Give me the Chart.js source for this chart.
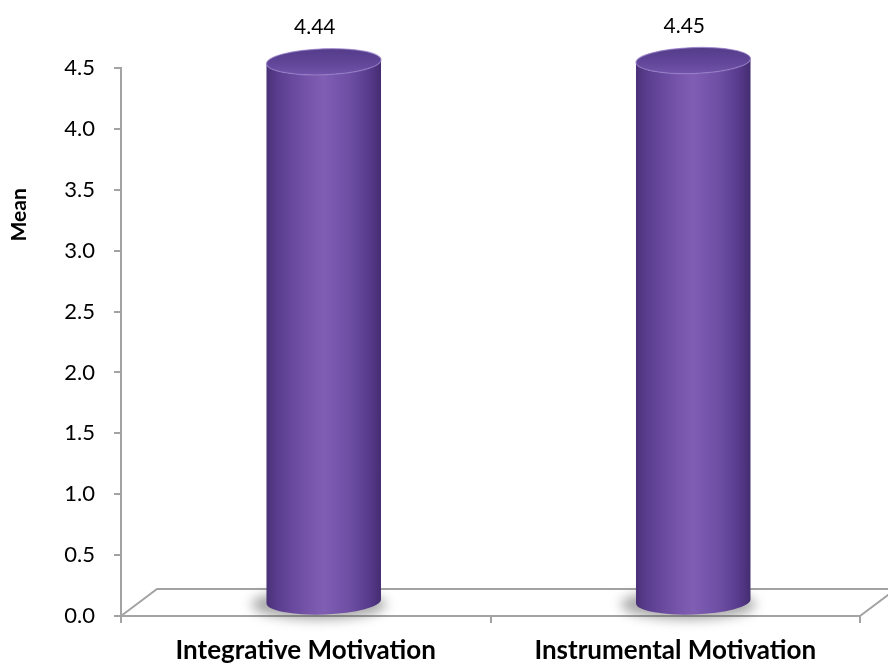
<!DOCTYPE html>
<html>
<head>
<meta charset="utf-8">
<script src="https://cdn.jsdelivr.net/npm/chart.js@4.4.1/dist/chart.umd.min.js"></script>
<style>
  html, body { margin: 0; padding: 0; background: #ffffff; }
  #wrap { width: 888px; height: 664px; position: relative; }
</style>
</head>
<body>
<div id="wrap"><canvas id="chart" width="888" height="664"></canvas></div>
<script>
// Motivation categories and their mean scores
const categories = ['Integrative Motivation', 'Instrumental Motivation'];
const meanValues = [4.44, 4.45];
const axisTitle = 'Mean';
const yMin = 0;
const yMax = 4.5;
const yStep = 0.5;

const FONT = 'Lato, "Open Sans", "Liberation Sans", sans-serif';
const AXIS_GREY = '#a3a3a3';
// Depth of the 3D floor (pixels to the right and upward)
const DEPTH_X = 36;
const DEPTH_Y = 27;

// Floor parallelogram drawn behind the bars
const floorPlugin = {
  id: 'floor3d',
  beforeDatasetsDraw(chart) {
    const { ctx } = chart;
    const x = chart.scales.x, y = chart.scales.y;
    const y0 = y.getPixelForValue(0);
    ctx.save();
    ctx.strokeStyle = AXIS_GREY;
    ctx.lineWidth = 2;
    ctx.beginPath();
    ctx.moveTo(x.left, y0);
    ctx.lineTo(x.left + DEPTH_X, y0 - DEPTH_Y);
    ctx.lineTo(x.right + DEPTH_X, y0 - DEPTH_Y);
    ctx.moveTo(x.right, y0);
    ctx.lineTo(x.right + DEPTH_X, y0 - DEPTH_Y);
    ctx.stroke();
    ctx.restore();
  }
};

// Cylinders drawn from each bar element's geometry, plus value labels
const cylinderPlugin = {
  id: 'cylinders',
  afterDatasetsDraw(chart) {
    const { ctx } = chart;
    const meta = chart.getDatasetMeta(0);
    const dx = DEPTH_X / 2, dy = -DEPTH_Y / 2;
    meta.data.forEach((bar, i) => {
      const p = bar.getProps(['x', 'y', 'base', 'width'], true);
      const cx = p.x + dx;
      const rx = p.width / 2;
      const ry = 13;
      const tilt = -0.035;
      const topY = p.y + dy;
      const baseY = p.base + dy;
      const left = cx - rx, right = cx + rx;

      ctx.save();
      // soft shadow around the foot
      ctx.save();
      ctx.filter = 'blur(6px)';
      ctx.fillStyle = 'rgba(60,60,60,0.45)';
      ctx.beginPath();
      ctx.ellipse(cx - 5, baseY + 3, rx + 10, ry + 2, 0, 0, Math.PI * 2);
      ctx.fill();
      ctx.restore();

      // body
      const g = ctx.createLinearGradient(left, 0, right, 0);
      g.addColorStop(0.00, '#4a3078');
      g.addColorStop(0.10, '#5b3e90');
      g.addColorStop(0.35, '#7453a9');
      g.addColorStop(0.50, '#7f5eb4');
      g.addColorStop(0.72, '#6e4fa4');
      g.addColorStop(0.90, '#573a8c');
      g.addColorStop(1.00, '#442c70');
      ctx.fillStyle = g;
      ctx.beginPath();
      ctx.moveTo(left, topY);
      ctx.lineTo(left, baseY);
      ctx.ellipse(cx, baseY, rx, ry, tilt, Math.PI, 0, true);
      ctx.lineTo(right, topY);
      ctx.ellipse(cx, topY, rx, ry, tilt, 0, Math.PI, false);
      ctx.closePath();
      ctx.fill();

      // top face
      const tg = ctx.createLinearGradient(0, topY - ry, 0, topY + ry);
      tg.addColorStop(0, '#553c8a');
      tg.addColorStop(0.6, '#62479a');
      tg.addColorStop(1, '#7255aa');
      ctx.fillStyle = tg;
      ctx.beginPath();
      ctx.ellipse(cx, topY, rx, ry, tilt, 0, Math.PI * 2);
      ctx.fill();
      ctx.strokeStyle = 'rgba(150,125,200,0.7)';
      ctx.lineWidth = 1.2;
      ctx.stroke();
      ctx.restore();

      // value label
      ctx.save();
      ctx.fillStyle = '#000000';
      ctx.font = '21px ' + FONT;
      ctx.textAlign = 'center';
      ctx.textBaseline = 'alphabetic';
      ctx.fillText(meanValues[i].toFixed(2), p.x + dx / 2, topY - ry - 15);
      ctx.restore();
    });
  }
};

// Rotated y-axis title
const titlePlugin = {
  id: 'yTitle',
  afterDraw(chart) {
    const { ctx, chartArea } = chart;
    const ty = chartArea.top + (chartArea.bottom - chartArea.top) * 0.268;
    ctx.save();
    ctx.translate(19, ty);
    ctx.rotate(-Math.PI / 2);
    ctx.fillStyle = '#000000';
    ctx.font = 'bold 21px ' + FONT;
    ctx.textAlign = 'center';
    ctx.textBaseline = 'middle';
    ctx.fillText(axisTitle, 0, 0);
    ctx.restore();
  }
};

new Chart(document.getElementById('chart'), {
  type: 'bar',
  data: {
    labels: categories,
    datasets: [{
      data: meanValues,
      backgroundColor: 'rgba(0,0,0,0)',
      borderWidth: 0,
      categoryPercentage: 1,
      barPercentage: 0.31
    }]
  },
  options: {
    responsive: false,
    animation: false,
    devicePixelRatio: 1,
    layout: { padding: { top: 68, right: 28, left: 0, bottom: 0 } },
    plugins: {
      legend: { display: false },
      tooltip: { enabled: false },
      title: { display: false }
    },
    scales: {
      y: {
        min: yMin,
        max: yMax,
        ticks: {
          stepSize: yStep,
          padding: 19,
          color: '#000000',
          font: { family: FONT, size: 22 },
          callback: v => Number(v).toFixed(1)
        },
        grid: {
          drawOnChartArea: false,
          drawTicks: true,
          tickLength: 7,
          color: AXIS_GREY,
          lineWidth: 2
        },
        border: { display: true, color: AXIS_GREY, width: 2 },
        afterFit(scale) { scale.width = 121; }
      },
      x: {
        ticks: {
          padding: 12,
          color: '#000000',
          font: { family: FONT, size: 26, weight: 'bold' }
        },
        grid: {
          drawOnChartArea: false,
          drawTicks: true,
          tickLength: 7,
          offset: true,
          color: AXIS_GREY,
          lineWidth: 2
        },
        border: { display: true, color: AXIS_GREY, width: 2 },
        afterFit(scale) { scale.height = 48; }
      }
    }
  },
  plugins: [floorPlugin, cylinderPlugin, titlePlugin]
});
</script>
</body>
</html>
